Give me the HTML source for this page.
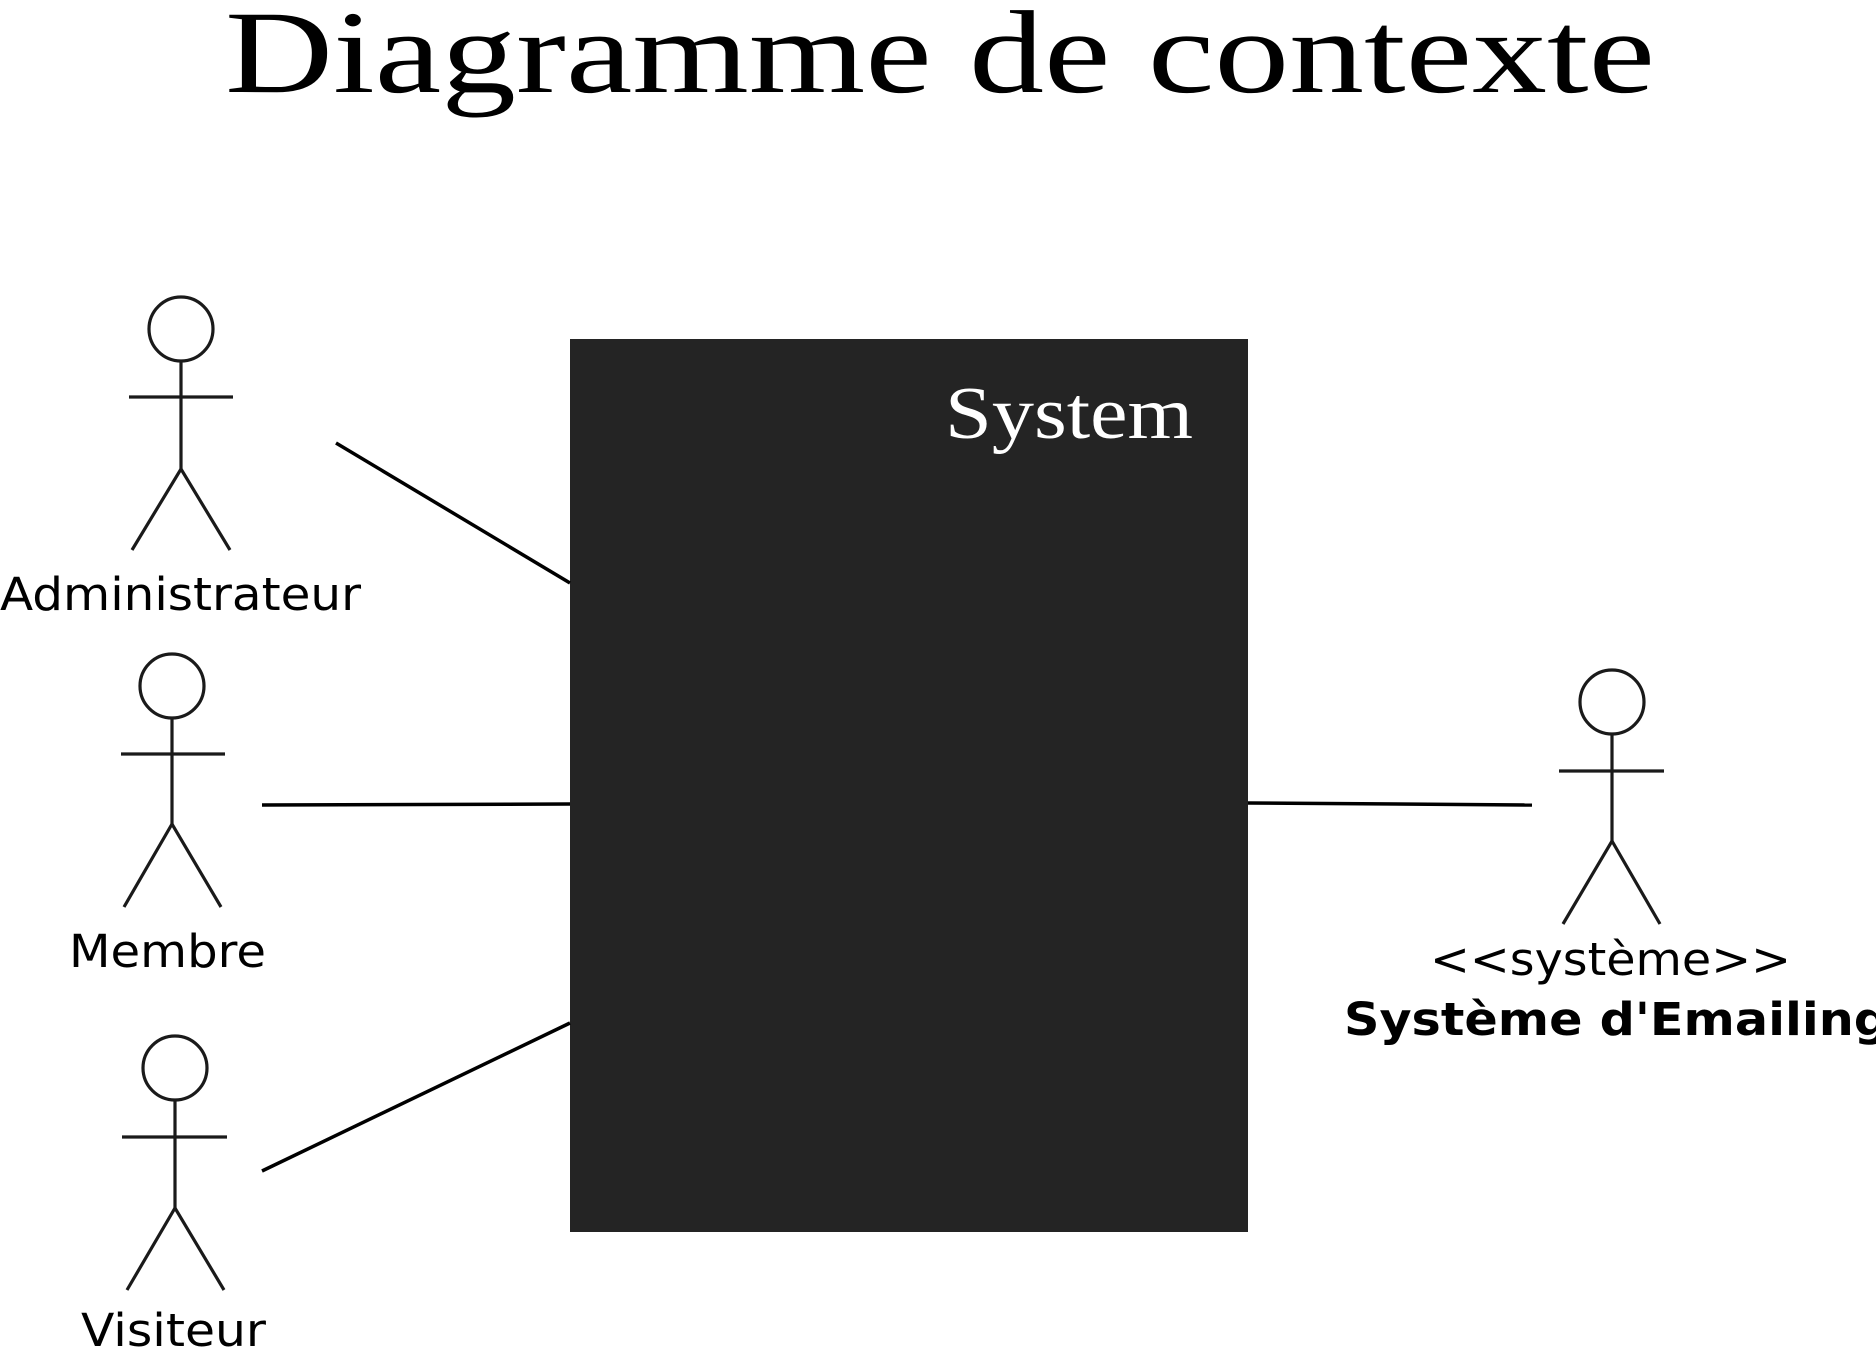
<!DOCTYPE html>
<html><head><meta charset="utf-8"><style>html,body{margin:0;padding:0;background:#fff;}svg{display:block}</style></head>
<body>
<svg width="1876" height="1350" viewBox="0 0 1876 1350" xmlns="http://www.w3.org/2000/svg">
<rect width="1876" height="1350" fill="#fff"/>
<text x="940" y="92" text-anchor="middle" font-family="Liberation Serif, serif" font-size="118" textLength="1430" lengthAdjust="spacingAndGlyphs" fill="#000">Diagramme de contexte</text>
<rect x="570" y="339" width="678" height="893" fill="#242424"/>
<text x="945" y="438" font-family="Liberation Serif, serif" font-size="74" textLength="248" lengthAdjust="spacingAndGlyphs" fill="#fff">System</text>
<g stroke="#000" stroke-width="3.5" fill="none">
<line x1="336" y1="443" x2="570" y2="583"/>
<line x1="262" y1="805" x2="570" y2="804"/>
<line x1="262" y1="1171" x2="570" y2="1023"/>
<line x1="1248" y1="803" x2="1532" y2="805"/>
</g>
<g stroke="#1a1a1a" stroke-width="3.2" fill="#fff">
<circle cx="181" cy="329" r="32"/>
<line x1="181" y1="361" x2="181" y2="469"/><line x1="129" y1="397" x2="233" y2="397"/>
<polyline points="132,550 181,469 230,550" fill="none"/>
<circle cx="172" cy="686" r="32"/>
<line x1="172" y1="718" x2="172" y2="824"/><line x1="121" y1="754" x2="225" y2="754"/>
<polyline points="124,907 172,824 221,907" fill="none"/>
<circle cx="175" cy="1068" r="32"/>
<line x1="175" y1="1100" x2="175" y2="1208"/><line x1="122" y1="1137" x2="227" y2="1137"/>
<polyline points="127,1290 175,1208 224,1290" fill="none"/>
<circle cx="1612" cy="702" r="32"/>
<line x1="1612" y1="734" x2="1612" y2="841"/><line x1="1559" y1="771" x2="1664" y2="771"/>
<polyline points="1563,924 1612,841 1660,924" fill="none"/>
</g>
<g font-family="DejaVu Sans, Liberation Sans, sans-serif" font-size="45" fill="#000">
<text x="0" y="610" textLength="361" lengthAdjust="spacingAndGlyphs">Administrateur</text>
<text x="69" y="967" textLength="197" lengthAdjust="spacingAndGlyphs">Membre</text>
<text x="81" y="1346" textLength="185" lengthAdjust="spacingAndGlyphs">Visiteur</text>
<text x="1430" y="975" textLength="361" lengthAdjust="spacingAndGlyphs">&lt;&lt;système&gt;&gt;</text>
<text x="1344" y="1035" font-weight="bold" textLength="545" lengthAdjust="spacingAndGlyphs">Système d'Emailing</text>
</g>
</svg>
</body></html>
